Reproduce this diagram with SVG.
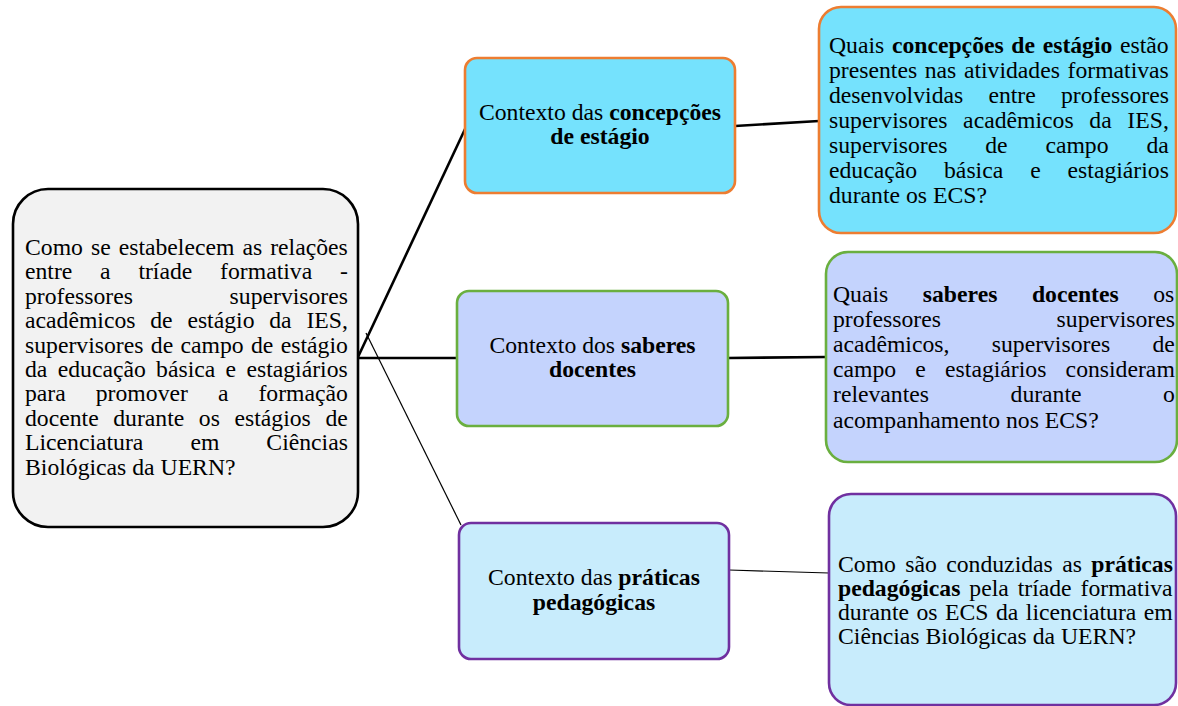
<svg xmlns="http://www.w3.org/2000/svg" width="1178" height="706" viewBox="0 0 1178 706">
<style>
text{font-family:"Liberation Serif","Times New Roman",serif;font-size:23.7px;fill:#000}
.b{font-weight:bold}
.c{text-anchor:middle}
.e{text-anchor:end}
.thick{stroke:#000;stroke-width:2.6;fill:none}
.thin{stroke:#000;stroke-width:1.2;fill:none}
.root{fill:#f2f2f2;stroke:#000;stroke-width:2.6}
.or{fill:#75e2fd;stroke:#ed7d31;stroke-width:2.6}
.gr{fill:#c4d3fd;stroke:#6aaf3f;stroke-width:2.6}
.pu{fill:#c8ecfc;stroke:#7030a0;stroke-width:2.6}
</style>
<rect width="1178" height="706" fill="#fff"/>
<g id="connectors">
<line class="thick" x1="358" y1="357" x2="466" y2="127"/>
<line class="thick" x1="358" y1="358" x2="457" y2="358"/>
<line class="thin" x1="366" y1="333" x2="461" y2="525"/>
<line class="thick" x1="735" y1="126" x2="819" y2="121"/>
<line class="thick" x1="728" y1="358" x2="826" y2="357"/>
<line class="thin" x1="729" y1="570" x2="829" y2="573"/>
</g>
<g id="root">
<rect class="root" x="13" y="189" width="345" height="338" rx="35"/>
<text x="25" y="255" word-spacing="2.1">Como se estabelecem as relações</text>
<text x="25" y="279.4" word-spacing="21.85">entre a tríade formativa -</text>
<text x="25" y="303.8">professores</text><text class="e" x="348" y="303.8">supervisores</text>
<text x="25" y="328.2" word-spacing="8.85">acadêmicos de estágio da IES,</text>
<text x="25" y="352.6" word-spacing="1.45">supervisores de campo de estágio</text>
<text x="25" y="377" word-spacing="4.4">da educação básica e estagiários</text>
<text x="25" y="401.4" word-spacing="24.1">para promover a formação</text>
<text x="25" y="425.8" word-spacing="8.67">docente durante os estágios de</text>
<text x="25" y="450.2" word-spacing="41.1">Licenciatura em Ciências</text>
<text x="25" y="474.6">Biológicas da UERN?</text>
</g>
<g id="ctx-concepcoes">
<rect class="or" x="465" y="58" width="270" height="135" rx="12"/>
<text class="c" x="600" y="120">Contexto das <tspan class="b">concepções</tspan></text>
<text class="c b" x="600" y="144">de estágio</text>
</g>
<g id="ctx-saberes">
<rect class="gr" x="457" y="291" width="271" height="135" rx="12"/>
<text class="c" x="592.5" y="353">Contexto dos <tspan class="b">saberes</tspan></text>
<text class="c b" x="592.5" y="377">docentes</text>
</g>
<g id="ctx-praticas">
<rect class="pu" x="459" y="523" width="270" height="136" rx="12"/>
<text class="c" x="594" y="585">Contexto das <tspan class="b">práticas</tspan></text>
<text class="c b" x="594" y="610">pedagógicas</text>
</g>
<g id="q-concepcoes">
<rect class="or" x="819" y="7" width="357" height="226" rx="22"/>
<text x="829" y="53" word-spacing="1.7">Quais <tspan class="b">concepções de estágio</tspan> estão</text>
<text x="829" y="78" word-spacing="1.67">presentes nas atividades formativas</text>
<text x="829" y="103" word-spacing="19.3">desenvolvidas entre professores</text>
<text x="829" y="128" word-spacing="9.78">supervisores acadêmicos da IES,</text>
<text x="829" y="153" word-spacing="31.9">supervisores de campo da</text>
<text x="829" y="178" word-spacing="21.0">educação básica e estagiários</text>
<text x="829" y="203">durante os ECS?</text>
</g>
<g id="q-saberes">
<rect class="gr" x="826" y="252" width="351" height="210" rx="22"/>
<text x="833" y="302" word-spacing="28.6">Quais <tspan class="b">saberes docentes</tspan> os</text>
<text x="833" y="327.1">professores</text><text class="e" x="1175" y="327.1">supervisores</text>
<text x="833" y="352.2" word-spacing="36.4">acadêmicos, supervisores de</text>
<text x="833" y="377.3" word-spacing="13.3">campo e estagiários consideram</text>
<text x="833" y="402.4" word-spacing="75.6">relevantes durante o</text>
<text x="833" y="427.5">acompanhamento nos ECS?</text>
</g>
<g id="q-praticas">
<rect class="pu" x="829" y="494" width="347" height="211" rx="22"/>
<text x="838" y="572" word-spacing="3.45">Como são conduzidas as <tspan class="b">práticas</tspan></text>
<text x="838" y="596" word-spacing="3.0"><tspan class="b">pedagógicas</tspan> pela tríade formativa</text>
<text x="838" y="620" word-spacing="1.57">durante os ECS da licenciatura em</text>
<text x="838" y="644">Ciências Biológicas da UERN?</text>
</g>
</svg>
